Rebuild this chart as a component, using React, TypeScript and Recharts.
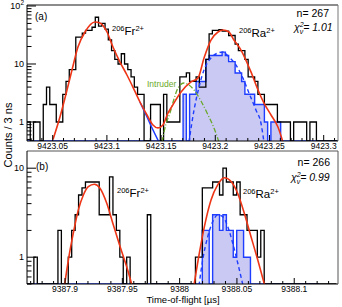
import React from 'react'
import { ComposedChart, Line, Area, XAxis, YAxis } from 'recharts'

const FONT = '"Liberation Sans", Arial, Helvetica, sans-serif'
const BIN = 0.003 // 3 ns bins, in µs

// ---- panel (a) ----
const aStart = 9423.0263
const aX = [9423.0263, 9423.3132]
const aY = [0.47, 104]
const aXTicks = [
  9423.03, 9423.04, 9423.05, 9423.06, 9423.07, 9423.08, 9423.09, 9423.1, 9423.11, 9423.12,
  9423.13, 9423.14, 9423.15, 9423.16, 9423.17, 9423.18, 9423.19, 9423.2, 9423.21, 9423.22,
  9423.23, 9423.24, 9423.25, 9423.26, 9423.27, 9423.28, 9423.29, 9423.3, 9423.31,
]
const aYTicks = [0.5, 0.6, 0.7, 0.8, 0.9, 1, 2, 3, 4, 5, 6, 7, 8, 9, 10, 20, 30, 40, 50, 60, 70, 80, 90, 100]

const aCounts = [
  1, 0, 1, 1, 0, 2, 4, 2, 2, 1, 1, 3,
  5, 8, 8, 29, 29, 34, 38, 38, 43, 64, 45, 50,
  40, 26, 17, 12, 10, 15, 10, 8, 6, 4, 3, 3,
  0, 0, 2, 2, 2, 0, 3, 1, 1, 1, 1, 6,
  6, 7, 5, 5, 6, 4, 4, 12, 33, 38, 38, 39,
  37, 37, 31, 31, 22, 17, 17, 12, 6, 6, 5, 3,
  3, 2, 2, 2, 2, 1, 1, 1, 1, 0, 1, 1,
  1, 1, 0, 1, 1, 0, 0, 0, 0, 0, 0, 0,
]
// gated (blue) histogram
const aGated = [
  0, 0, 0, 0, 0, 0, 0, 0, 0, 0, 0, 0,
  0, 0, 0, 0, 0, 0, 0, 0, 0, 0, 0, 0,
  0, 0, 0, 0, 0, 0, 0, 0, 0, 0, 0, 0,
  0, 0, 0, 0, 0, 0, 0, 0, 0, 0, 0, 0,
  3, 0, 3, 3, 5, 5, 5, 12, 14, 14, 14, 14,
  16, 14, 11, 11, 7, 7, 5, 3, 3, 3, 2, 2,
  2, 1, 0, 1, 1, 1, 0, 0, 0, 0, 0, 0,
  0, 0, 0, 0, 0, 0, 0, 0, 0, 0, 0, 0,
]
const aFit = [
  [9423.0503, 0.5], [9423.0567, 1.22], [9423.0632, 3.56], [9423.0678, 7.88], [9423.0733, 19.6],
  [9423.0798, 35.6], [9423.089, 53], [9423.0936, 51], [9423.1001, 35.6], [9423.1056, 19.6],
  [9423.1121, 10.8], [9423.1185, 6.46], [9423.124, 4.0], [9423.1305, 2.21], [9423.137, 1.32],
  [9423.1425, 0.89], [9423.1471, 0.79], [9423.1517, 0.89], [9423.1564, 1.43], [9423.1591, 1.74],
  [9423.1684, 3.29], [9423.1776, 4.9], [9423.184, 5.7], [9423.1896, 12.7], [9423.196, 25.9],
  [9423.2025, 35.6], [9423.2071, 38.6], [9423.2126, 35.6], [9423.2172, 25.9], [9423.2237, 17.4],
  [9423.2329, 7.3], [9423.2394, 3.56], [9423.2449, 2.12], [9423.2514, 1.32], [9423.2578, 0.82],
  [9423.2624, 0.45],
]
const aFrTail = [[9423.1305, 2.21], [9423.137, 1.22], [9423.1425, 0.73], [9423.148, 0.45]]
const aRaComp = [
  [9423.1757, 0.45], [9423.1804, 1.61], [9423.185, 4.0], [9423.1896, 7.9], [9423.196, 12.7],
  [9423.2025, 15.5], [9423.2071, 16.1], [9423.2126, 13.2], [9423.2191, 9.6], [9423.2255, 5.7],
  [9423.2311, 3.16], [9423.2375, 1.61], [9423.2421, 0.96], [9423.2449, 0.45],
]
const aIntruder = [
  [9423.1508, 0.45], [9423.1545, 0.92], [9423.1582, 1.43], [9423.1619, 2.49], [9423.1656, 3.86],
  [9423.1711, 4.7], [9423.1757, 4.34], [9423.1804, 3.56], [9423.1868, 2.3], [9423.1933, 1.32],
  [9423.1988, 0.79], [9423.2034, 0.45],
]

// ---- panel (b) ----
const bStart = 9387.8668
const bX = [9387.8668, 9388.1382]
const bY = [0.5, 15.6]
const bXTicks = [
  9387.87, 9387.88, 9387.89, 9387.9, 9387.91, 9387.92, 9387.93, 9387.94, 9387.95, 9387.96,
  9387.97, 9387.98, 9387.99, 9388, 9388.01, 9388.02, 9388.03, 9388.04, 9388.05, 9388.06,
  9388.07, 9388.08, 9388.09, 9388.1, 9388.11, 9388.12, 9388.13,
]
const bYTicks = [0.5, 0.6, 0.7, 0.8, 0.9, 1, 2, 3, 4, 5, 6, 7, 8, 9, 10]

const bCounts = [
  0, 0, 1, 0, 0, 0, 0, 0, 0, 2, 0, 0,
  1, 2, 3, 5, 6, 7, 7, 7, 7, 3, 3, 3,
  8, 3, 2, 1, 0, 1, 0, 0, 0, 0, 0, 3,
  0, 0, 0, 0, 0, 0, 0, 0, 0, 0, 0, 0,
  0, 1, 1, 6, 6, 6, 7, 7, 5, 10, 7, 7,
  5, 7, 3, 3, 2, 2, 2, 1, 2, 0, 0, 0,
  0, 0, 0, 0, 0, 0, 0, 0, 0, 0, 0, 0,
  0, 0, 0, 0, 0, 0,
]
const bGated = [
  0, 0, 0, 0, 0, 0, 0, 0, 0, 0, 0, 0,
  0, 0, 0, 0, 0, 0, 0, 0, 0, 0, 0, 0,
  0, 0, 0, 0, 0, 0, 0, 0, 0, 0, 0, 0,
  0, 0, 0, 0, 0, 0, 0, 0, 0, 0, 0, 0,
  0, 0, 0, 2, 2, 0, 3, 3, 2, 3, 2, 2,
  1, 2, 2, 1, 1, 0, 0, 0, 0, 0, 0, 0,
  0, 0, 0, 0, 0, 0, 0, 0, 0, 0, 0, 0,
  0,
]
const bFrFit = [
  [9387.8995, 0.48], [9387.9029, 0.93], [9387.9072, 1.86], [9387.9116, 3.4], [9387.916, 5.0],
  [9387.9203, 6.2], [9387.9256, 6.6], [9387.9305, 5.96], [9387.9364, 4.04], [9387.9421, 2.31],
  [9387.948, 1.32], [9387.9538, 0.78], [9387.9585, 0.48],
]
const bRaFit = [
  [9388.0125, 0.48], [9388.0172, 1.11], [9388.0216, 2.21], [9388.0274, 4.4], [9388.0332, 6.5],
  [9388.039, 7.8], [9388.0449, 7.1], [9388.0507, 5.2], [9388.0565, 3.1], [9388.0623, 1.7],
  [9388.0682, 0.93], [9388.0743, 0.48],
]
const bRaComp = [
  [9388.0169, 0.48], [9388.0201, 0.93], [9388.0245, 1.7], [9388.0289, 2.51], [9388.0332, 2.99],
  [9388.0376, 2.86], [9388.042, 2.21], [9388.0463, 1.44], [9388.0507, 0.86], [9388.0553, 0.48],
]

const RED = '#ee3516'
const BLUE = '#1f3dff'
const LAV = '#c9c9f4'
const GREEN = '#6aa82a'

function steps(start: number, counts: number[], floor: number) {
  const pts = counts.map((c, i) => ({ t: start + i * BIN, v: c > 0 ? c : floor }))
  pts.push({ t: start + counts.length * BIN, v: pts[pts.length - 1].v })
  return pts
}
const pts = (arr: number[][]) => arr.map(([t, v]) => ({ t, v }))

function fmtX(v: number) {
  return String(parseFloat(v.toFixed(2)))
}

function XTick(props: any) {
  const { x, y, payload } = props
  const v = payload.value as number
  const major = Math.abs(v * 20 - Math.round(v * 20)) < 1e-4
  return (
    <g>
      <line x1={x} y1={y} x2={x} y2={y - (major ? 6 : 3)} stroke="#000" strokeWidth={1} />
      {major && (
        <text x={x} y={y + 8} textAnchor="middle" fontSize={8.5} fontFamily={FONT} fill="#000">
          {fmtX(v)}
        </text>
      )}
    </g>
  )
}

function YTick(props: any) {
  const { x, y, payload } = props
  const v = payload.value as number
  const lg = Math.log10(v)
  const major = Math.abs(lg - Math.round(lg)) < 1e-6
  return (
    <g>
      <line x1={x} y1={y} x2={x + (major ? 9 : 4.5)} y2={y} stroke="#000" strokeWidth={1} />
      {major && (
        <text x={x - 3} y={y + 3} textAnchor="end" fontSize={9} fontFamily={FONT} fill="#000">
          {v >= 100 ? (
            <>
              10<tspan fontSize={6.5} dy={-4}>2</tspan>
            </>
          ) : (
            String(v)
          )}
        </text>
      )}
    </g>
  )
}

function Ion({ x, y, el }: { x: number; y: number; el: string }) {
  return (
    <text x={x} y={y} fontSize={11.5} fontFamily={FONT} fill="#000">
      <tspan fontSize={7.5} dy={-4.5}>206</tspan>
      <tspan dy={4.5}>{el}</tspan>
      <tspan fontSize={7.5} dy={-4.5}>2+</tspan>
    </text>
  )
}

function Chi({ x, y, val }: { x: number; y: number; val: string }) {
  return (
    <text x={x} y={y} fontSize={10.5} fontFamily={FONT} fontStyle="italic" fill="#000">
      χ<tspan fontSize={7} dy={-4.5}>2</tspan>
      <tspan fontSize={7} dx={-4} dy={7.5}>ν</tspan>
      <tspan dy={-3}>= {val}</tspan>
    </text>
  )
}

export default function App() {
  const aFloor = aY[0]
  const bFloor = bY[0]
  return (
    <div style={{ position: 'relative', width: 342, height: 307, background: '#fff' }}>
      <style>{'body{margin:0}'}</style>

      <div style={{ position: 'absolute', left: 0, top: 0 }}>
        <ComposedChart width={342} height={155} margin={{ top: 4, right: 3, bottom: 13, left: 26 }}>
          <XAxis
            dataKey="t" type="number" domain={aX} allowDataOverflow ticks={aXTicks} interval={0}
            height={1} tickSize={0} tickMargin={0} tickLine={false}
            tick={(p: any) => <XTick {...p} />} axisLine={{ stroke: '#000' }}
          />
          <XAxis
            xAxisId="top" orientation="top" type="number" domain={aX} allowDataOverflow
            height={1} tick={false} tickLine={false} axisLine={{ stroke: '#8c8c8c', strokeWidth: 2 }}
          />
          <YAxis
            type="number" scale="log" domain={aY} allowDataOverflow ticks={aYTicks} interval={0}
            width={1} tickSize={0} tickMargin={0} tickLine={false}
            tick={(p: any) => <YTick {...p} />} axisLine={{ stroke: '#000' }}
          />
          <YAxis
            yAxisId="r" orientation="right" type="number" domain={[0, 1]} width={1}
            tick={false} tickLine={false} axisLine={{ stroke: '#777' }}
          />
          <Line data={steps(aStart, aCounts, aFloor)} dataKey="v" type="stepAfter" stroke="#000"
            strokeWidth={1.3} dot={false} isAnimationActive={false} />
          <Area data={steps(aStart, aGated, aFloor)} dataKey="v" type="stepAfter" stroke={BLUE}
            strokeWidth={1.4} fill={LAV} fillOpacity={1} baseValue={aFloor} dot={false}
            isAnimationActive={false} />
          <Line data={pts(aIntruder)} dataKey="v" type="monotone" stroke={GREEN} strokeWidth={1.3}
            strokeDasharray="5 2 1 2" dot={false} isAnimationActive={false} />
          <Line data={pts(aRaComp)} dataKey="v" type="monotone" stroke={BLUE} strokeWidth={1.4}
            strokeDasharray="4 3" dot={false} isAnimationActive={false} />
          <Line data={pts(aFrTail)} dataKey="v" type="monotone" stroke={BLUE} strokeWidth={1.4}
            dot={false} isAnimationActive={false} />
          <Line data={pts(aFit)} dataKey="v" type="monotone" stroke={RED} strokeWidth={1.6}
            dot={false} isAnimationActive={false} />
        </ComposedChart>
      </div>

      <div style={{ position: 'absolute', left: 0, top: 150 }}>
        <ComposedChart width={342} height={157} margin={{ top: 0, right: 3, bottom: 22, left: 26 }}>
          <XAxis
            dataKey="t" type="number" domain={bX} allowDataOverflow ticks={bXTicks} interval={0}
            height={1} tickSize={0} tickMargin={0} tickLine={false}
            tick={(p: any) => <XTick {...p} />} axisLine={{ stroke: '#000' }}
          />
          <XAxis
            xAxisId="top" orientation="top" type="number" domain={bX} allowDataOverflow
            height={1} tick={false} tickLine={false} axisLine={{ stroke: '#555' }}
          />
          <YAxis
            type="number" scale="log" domain={bY} allowDataOverflow ticks={bYTicks} interval={0}
            width={1} tickSize={0} tickMargin={0} tickLine={false}
            tick={(p: any) => <YTick {...p} />} axisLine={{ stroke: '#000' }}
          />
          <YAxis
            yAxisId="r" orientation="right" type="number" domain={[0, 1]} width={1}
            tick={false} tickLine={false} axisLine={{ stroke: '#555' }}
          />
          <Line data={steps(bStart, bCounts, bFloor)} dataKey="v" type="stepAfter" stroke="#000"
            strokeWidth={1.3} dot={false} isAnimationActive={false} />
          <Area data={steps(bStart, bGated, bFloor)} dataKey="v" type="stepAfter" stroke={BLUE}
            strokeWidth={1.4} fill={LAV} fillOpacity={1} baseValue={bFloor} dot={false}
            isAnimationActive={false} />
          <Line data={pts(bRaComp)} dataKey="v" type="monotone" stroke={BLUE} strokeWidth={1.4}
            strokeDasharray="4 3" dot={false} isAnimationActive={false} />
          <Line data={pts(bFrFit)} dataKey="v" type="monotone" stroke={RED} strokeWidth={1.6}
            dot={false} isAnimationActive={false} />
          <Line data={pts(bRaFit)} dataKey="v" type="monotone" stroke={RED} strokeWidth={1.6}
            dot={false} isAnimationActive={false} />
        </ComposedChart>
      </div>

      <svg width={342} height={307} style={{ position: 'absolute', left: 0, top: 0, pointerEvents: 'none' }}>
        <text x={35} y={20} fontSize={10} fontFamily={FONT}>(a)</text>
        <Ion x={112} y={35} el="Fr" />
        <Ion x={239} y={37} el="Ra" />
        <text x={329} y={17} fontSize={10.5} fontFamily={FONT} textAnchor="end">n= 267</text>
        <Chi x={294} y={31} val="1.01" />
        <text x={147} y={87} fontSize={8.5} fontFamily={FONT} fill={GREEN}>Intruder</text>

        <text x={36} y={170} fontSize={10} fontFamily={FONT}>(b)</text>
        <Ion x={117} y={197} el="Fr" />
        <Ion x={243} y={198} el="Ra" />
        <text x={330} y={166} fontSize={10.5} fontFamily={FONT} textAnchor="end">n= 266</text>
        <Chi x={291} y={181} val="0.99" />

        <text transform="translate(12,135) rotate(-90)" textAnchor="middle" fontSize={11} fontFamily={FONT}>
          Counts / 3 ns
        </text>
        <text x={183} y={303} textAnchor="middle" fontSize={9.5} fontFamily={FONT}>
          Time-of-flight [µs]
        </text>
      </svg>
    </div>
  )
}
